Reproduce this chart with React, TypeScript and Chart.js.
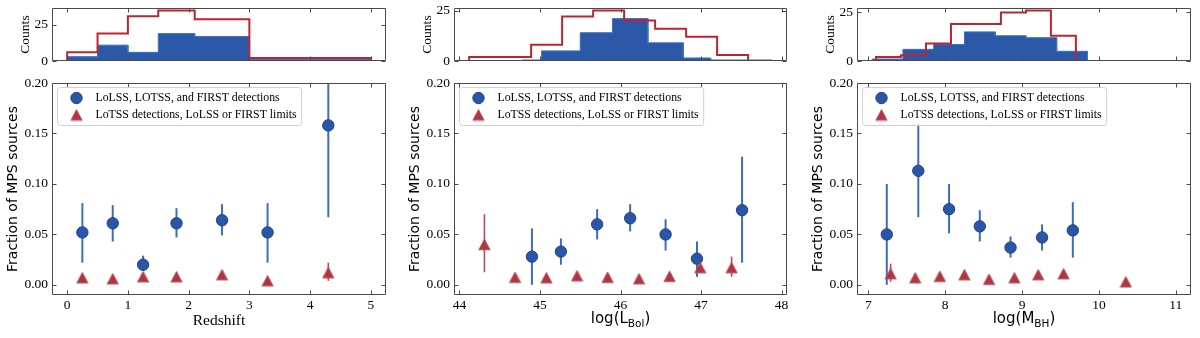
import React, { useEffect, useRef } from "react";
import { Chart, registerables } from "chart.js";

Chart.register(...registerables);

/* ---------------- data ---------------- */
// Panel 1: redshift
const zHistEdges = [0, 0.5, 1.0, 1.5, 2.1, 3.0, 5.0];
const zHistDet = [3, 11, 6, 19, 17, 1];
const zHistAll = [6, 19, 31, 35, 29, 2];
const zDetX = [0.25, 0.75, 1.25, 1.8, 2.55, 3.3, 4.3];
const zDetY = [0.052, 0.061, 0.02, 0.061, 0.064, 0.052, 0.158];
const zDetLo = [0.022, 0.043, 0.014, 0.047, 0.049, 0.022, 0.067];
const zDetHi = [0.081, 0.079, 0.029, 0.076, 0.08, 0.081, 0.25];
const zLimX = [0.25, 0.75, 1.25, 1.8, 2.55, 3.3, 4.3];
const zLimY = [0.007, 0.006, 0.008, 0.008, 0.01, 0.004, 0.012];
const zLimLo = [null, null, null, null, null, null, 0.004];
const zLimHi = [null, null, null, null, null, null, 0.022];
const zTicks = [0, 1, 2, 3, 4, 5];

// Panel 2: log(L_Bol)
const lHistDetEdges = [44.78, 45.02, 45.5, 45.9, 46.34, 46.78, 47.12, 47.88];
const lHistDet = [0.5, 5, 14, 21, 9, 1.5, 0.5];
const lHistAllEdges = [44.12, 44.505, 44.89, 45.275, 45.66, 46.045, 46.43, 46.815, 47.2, 47.585];
const lHistAll = [2, 2, 8, 22, 25, 20, 16, 12, 3];
const lDetX = [44.9, 45.26, 45.71, 46.12, 46.56, 46.95, 47.51];
const lDetY = [0.028, 0.033, 0.06, 0.066, 0.05, 0.026, 0.074];
const lDetLo = [0.0, 0.02, 0.045, 0.053, 0.034, 0.008, 0.022];
const lDetHi = [0.056, 0.046, 0.075, 0.08, 0.065, 0.043, 0.127];
const lLimX = [44.31, 44.69, 45.08, 45.46, 45.84, 46.23, 46.61, 46.99, 47.38];
const lLimY = [0.04, 0.0075, 0.007, 0.009, 0.0075, 0.006, 0.0085, 0.017, 0.017];
const lLimLo = [0.0126, null, null, null, null, null, null, null, 0.008];
const lLimHi = [0.07, null, null, null, null, null, null, null, 0.028];
const lTicks = [44, 45, 46, 47, 48];

// Panel 3: log(M_BH)
const mHistDetEdges = [7.05, 7.45, 7.85, 8.25, 8.65, 9.05, 9.45, 9.85];
const mHistDet = [1, 6, 8.5, 15, 13, 12, 5];
const mHistAllEdges = [7.1, 7.425, 7.75, 8.075, 8.4, 8.725, 9.05, 9.375, 9.7, 10.025, 10.35, 10.675, 11.0];
const mHistAll = [2, 3, 9, 19, 19, 25, 26, 13, 0, 0, 0, 0];
const mDetX = [7.24, 7.65, 8.05, 8.45, 8.85, 9.26, 9.66];
const mDetY = [0.05, 0.113, 0.075, 0.058, 0.037, 0.047, 0.054];
const mDetLo = [0.0, 0.067, 0.051, 0.043, 0.027, 0.034, 0.027];
const mDetHi = [0.1, 0.16, 0.1, 0.074, 0.048, 0.06, 0.082];
const mLimX = [7.29, 7.61, 7.93, 8.25, 8.57, 8.9, 9.21, 9.54, 10.35];
const mLimY = [0.011, 0.007, 0.0085, 0.01, 0.0055, 0.007, 0.01, 0.011, 0.003];
const mLimLo = [0.003, null, null, null, null, null, null, null, null];
const mLimHi = [0.021, null, null, null, null, null, null, null, null];
const mTicks = [7, 8, 9, 10, 11];

const fracTicks = [0, 0.05, 0.1, 0.15, 0.2];
const fracRange = [-0.01, 0.2];
const countTicks = [0, 25];

const detLabel = "LoLSS, LOTSS, and FIRST detections";
const limLabel = "LoTSS detections, LoLSS or FIRST limits";
const fracTitle = "Fraction of MPS sources";
const countTitle = "Counts";
const zTitle = "Redshift";
const lTitleParts: [string, boolean][] = [["log(L", false], ["Bol", true], [")", false]];
const mTitleParts: [string, boolean][] = [["log(M", false], ["BH", true], [")", false]];

/* ---------------- style ---------------- */
const BLUE = "#2a56a6";
const BLUE_EDGE = "#1d418e";
const BLUE_ERR = "#3e6dbd";
const BLUE_HIST = "#2c59a7";
const BLUE_HIST_EDGE = "#3f70c3";
const RED_LINE = "#bb2532";
const RED_MARK = "#ae3642";
const RED_MARK_EDGE = "#bf4f5b";
const RED_ERR = "#b84a56";
const FRAME = "#4a4a4a";
const SERIF = '"Liberation Serif", "Times New Roman", Times, serif';
const SANS = '"DejaVu Sans", Verdana, sans-serif';

const AXIS_W = 52;
const PAD_R = 8;
const HIST_H = 72;
const HIST_PAD_TOP = 8;
const HIST_PAD_BOTTOM = 11;
const SC_TOP = 72;
const SC_H = 266;
const SC_PAD_TOP = 11;
const SC_XAXIS_H = 43;

const panels = [
  {
    frameLeft: 52, frameRight: 386,
    detEdges: zHistEdges, det: zHistDet, allEdges: zHistEdges, all: zHistAll,
    detX: zDetX, detY: zDetY, detLo: zDetLo, detHi: zDetHi,
    limX: zLimX, limY: zLimY, limLo: zLimLo, limHi: zLimHi,
    xTicks: zTicks, title: zTitle, rich: null as any,
  },
  {
    frameLeft: 454, frameRight: 787,
    detEdges: lHistDetEdges, det: lHistDet, allEdges: lHistAllEdges, all: lHistAll,
    detX: lDetX, detY: lDetY, detLo: lDetLo, detHi: lDetHi,
    limX: lLimX, limY: lLimY, limLo: lLimLo, limHi: lLimHi,
    xTicks: lTicks, title: null as any, rich: lTitleParts,
  },
  {
    frameLeft: 857, frameRight: 1191,
    detEdges: mHistDetEdges, det: mHistDet, allEdges: mHistAllEdges, all: mHistAll,
    detX: mDetX, detY: mDetY, detLo: mDetLo, detHi: mDetHi,
    limX: mLimX, limY: mLimY, limLo: mLimLo, limHi: mLimHi,
    xTicks: mTicks, title: null as any, rich: mTitleParts,
  },
];

/* ---------------- helpers ---------------- */
function stepPoints(edges: number[], counts: number[]) {
  const pts = [{ x: edges[0], y: 0 }];
  counts.forEach((c, i) => {
    pts.push({ x: edges[i], y: c });
    pts.push({ x: edges[i + 1], y: c });
  });
  pts.push({ x: edges[edges.length - 1], y: 0 });
  return pts;
}

function xRange(p: any): [number, number] {
  const lo = Math.min(p.detEdges[0], p.allEdges[0]);
  const hi = Math.max(p.detEdges[p.detEdges.length - 1], p.allEdges[p.allEdges.length - 1]);
  const m = (hi - lo) * 0.05;
  return [lo - m, hi + m];
}

function makeTriangle(): HTMLCanvasElement {
  const c = document.createElement("canvas");
  c.width = 13;
  c.height = 13;
  const g = c.getContext("2d")!;
  g.beginPath();
  g.moveTo(6.5, 1);
  g.lineTo(12.2, 11.8);
  g.lineTo(0.8, 11.8);
  g.closePath();
  g.fillStyle = RED_MARK;
  g.fill();
  g.strokeStyle = RED_MARK_EDGE;
  g.lineWidth = 0.8;
  g.stroke();
  return c;
}

function makeFramePlugin(xTicks: number[], yTicks: number[]) {
  return {
    id: "frame",
    afterDraw(chart: any) {
      const { ctx, chartArea: a, scales } = chart;
      const L = 4;
      const l = Math.round(a.left) + 0.5;
      const r = Math.round(a.right) - 0.5;
      const t = Math.round(a.top) + 0.5;
      const b = Math.round(a.bottom) - 0.5;
      ctx.save();
      ctx.strokeStyle = FRAME;
      ctx.lineWidth = 1;
      ctx.beginPath();
      ctx.rect(l, t, r - l, b - t);
      xTicks.forEach((v) => {
        const px = Math.round(scales.x.getPixelForValue(v)) + 0.5;
        ctx.moveTo(px, b);
        ctx.lineTo(px, b - L);
        ctx.moveTo(px, t);
        ctx.lineTo(px, t + L);
      });
      yTicks.forEach((v) => {
        const py = Math.round(scales.y.getPixelForValue(v)) + 0.5;
        ctx.moveTo(l, py);
        ctx.lineTo(l + L, py);
        ctx.moveTo(r, py);
        ctx.lineTo(r - L, py);
      });
      ctx.stroke();
      ctx.restore();
    },
  };
}

function makeErrorPlugin(series: any[]) {
  return {
    id: "errbars",
    beforeDatasetsDraw(chart: any) {
      const { ctx, chartArea: a, scales } = chart;
      ctx.save();
      ctx.beginPath();
      ctx.rect(a.left, a.top, a.right - a.left, a.bottom - a.top);
      ctx.clip();
      series.forEach((s) => {
        ctx.strokeStyle = s.color;
        ctx.lineWidth = s.width;
        s.x.forEach((xv: number, i: number) => {
          const lo = s.lo[i];
          const hi = s.hi[i];
          if (lo == null || hi == null) return;
          const px = scales.x.getPixelForValue(xv);
          ctx.beginPath();
          ctx.moveTo(px, scales.y.getPixelForValue(lo));
          ctx.lineTo(px, scales.y.getPixelForValue(hi));
          ctx.stroke();
        });
      });
      ctx.restore();
    },
  };
}

function makeLegendPlugin(tri: HTMLCanvasElement) {
  return {
    id: "boxLegend",
    afterDraw(chart: any) {
      const { ctx, chartArea: a } = chart;
      const ds = chart.data.datasets;
      ctx.save();
      ctx.font = `11.8px ${SERIF}`;
      const tw = Math.max(...ds.map((d: any) => ctx.measureText(d.label).width));
      const x0 = a.left + 5.5;
      const y0 = a.top + 4.5;
      const w = 38 + tw + 5;
      const h = 38;
      const r = 3;
      ctx.beginPath();
      ctx.moveTo(x0 + r, y0);
      ctx.lineTo(x0 + w - r, y0);
      ctx.arcTo(x0 + w, y0, x0 + w, y0 + r, r);
      ctx.lineTo(x0 + w, y0 + h - r);
      ctx.arcTo(x0 + w, y0 + h, x0 + w - r, y0 + h, r);
      ctx.lineTo(x0 + r, y0 + h);
      ctx.arcTo(x0, y0 + h, x0, y0 + h - r, r);
      ctx.lineTo(x0, y0 + r);
      ctx.arcTo(x0, y0, x0 + r, y0, r);
      ctx.closePath();
      ctx.fillStyle = "rgba(255,255,255,0.8)";
      ctx.fill();
      ctx.strokeStyle = "#d0d0d0";
      ctx.lineWidth = 1;
      ctx.stroke();
      const mx = x0 + 19;
      const cy1 = y0 + 10.5;
      const cy2 = y0 + 27.5;
      ctx.beginPath();
      ctx.arc(mx, cy1, 5.7, 0, Math.PI * 2);
      ctx.fillStyle = BLUE;
      ctx.fill();
      ctx.strokeStyle = BLUE_EDGE;
      ctx.stroke();
      ctx.drawImage(tri, mx - tri.width / 2, cy2 - tri.height / 2);
      ctx.fillStyle = "#000";
      ctx.textAlign = "left";
      ctx.textBaseline = "middle";
      ctx.fillText(ds[0].label, x0 + 38, cy1);
      ctx.fillText(ds[1].label, x0 + 38, cy2);
      ctx.restore();
    },
  };
}

function makeRichTitlePlugin(parts: [string, boolean][]) {
  return {
    id: "richTitle",
    afterDraw(chart: any) {
      const { ctx, chartArea: a } = chart;
      const main = `15px ${SANS}`;
      const sub = `10.5px ${SANS}`;
      ctx.save();
      ctx.fillStyle = "#000";
      ctx.textAlign = "left";
      ctx.textBaseline = "alphabetic";
      let total = 0;
      parts.forEach(([t, s]) => {
        ctx.font = s ? sub : main;
        total += ctx.measureText(t).width;
      });
      let x = (a.left + a.right) / 2 - total / 2;
      const base = chart.height - 14.7;
      parts.forEach(([t, s]) => {
        ctx.font = s ? sub : main;
        ctx.fillText(t, x, s ? base + 4 : base);
        x += ctx.measureText(t).width;
      });
      ctx.restore();
    },
  };
}

const noGrid = { display: false, drawTicks: false };
const noBorder = { display: false };

function histConfig(p: any): any {
  const xr = xRange(p);
  const yMax = Math.max(...p.all, ...p.det) * 1.05;
  return {
    type: "line",
    data: {
      datasets: [
        {
          label: "all",
          data: stepPoints(p.allEdges, p.all),
          borderColor: RED_LINE,
          borderWidth: 2,
          fill: false,
          pointRadius: 0,
          tension: 0,
          order: 0,
          borderJoinStyle: "miter",
        },
        {
          label: "det",
          data: stepPoints(p.detEdges, p.det),
          borderColor: BLUE_HIST_EDGE,
          borderWidth: 1,
          backgroundColor: BLUE_HIST,
          fill: "origin",
          pointRadius: 0,
          tension: 0,
          order: 1,
        },
      ],
    },
    options: {
      animation: false,
      responsive: false,
      maintainAspectRatio: false,
      events: [],
      layout: { autoPadding: false, padding: { top: HIST_PAD_TOP, bottom: HIST_PAD_BOTTOM, left: 0, right: PAD_R } },
      scales: {
        x: {
          type: "linear",
          min: xr[0],
          max: xr[1],
          ticks: { display: false },
          grid: noGrid,
          border: noBorder,
          afterFit: (s: any) => {
            s.height = 0;
            s.paddingLeft = 0;
            s.paddingRight = 0;
          },
        },
        y: {
          type: "linear",
          min: 0,
          max: yMax,
          afterBuildTicks: (s: any) => {
            s.ticks = countTicks.map((v) => ({ value: v }));
          },
          ticks: {
            font: { family: SERIF, size: 13.5, lineHeight: 1.1 },
            color: "#000",
            padding: 4,
            callback: (v: any) => String(v),
          },
          grid: noGrid,
          border: noBorder,
          title: {
            display: true,
            text: countTitle,
            font: { family: SERIF, size: 13.5 },
            color: "#000",
            padding: { top: 17.3, bottom: 0 },
          },
          afterFit: (s: any) => {
            s.width = AXIS_W;
            s.paddingTop = 0;
            s.paddingBottom = 0;
          },
        },
      },
      plugins: { legend: { display: false }, tooltip: { enabled: false } },
    },
    plugins: [makeFramePlugin(p.xTicks, countTicks)],
  };
}

function scatterConfig(p: any): any {
  const xr = xRange(p);
  const tri = makeTriangle();
  const plugins: any[] = [
    makeErrorPlugin([
      { x: p.detX, lo: p.detLo, hi: p.detHi, color: BLUE_ERR, width: 2 },
      { x: p.limX, lo: p.limLo, hi: p.limHi, color: RED_ERR, width: 1.6 },
    ]),
    makeFramePlugin(p.xTicks, fracTicks),
    makeLegendPlugin(tri),
  ];
  if (p.rich) plugins.push(makeRichTitlePlugin(p.rich));
  return {
    type: "scatter",
    data: {
      datasets: [
        {
          label: detLabel,
          data: p.detX.map((x: number, i: number) => ({ x, y: p.detY[i] })),
          pointStyle: "circle",
          pointRadius: 5.7,
          backgroundColor: BLUE,
          borderColor: BLUE_EDGE,
          borderWidth: 1,
          order: 1,
        },
        {
          label: limLabel,
          data: p.limX.map((x: number, i: number) => ({ x, y: p.limY[i] })),
          pointStyle: tri,
          pointRadius: 6,
          backgroundColor: RED_MARK,
          borderColor: RED_MARK,
          borderWidth: 0,
          order: 0,
        },
      ],
    },
    options: {
      animation: false,
      responsive: false,
      maintainAspectRatio: false,
      events: [],
      layout: { autoPadding: false, padding: { top: SC_PAD_TOP, bottom: 0, left: 0, right: PAD_R } },
      scales: {
        x: {
          type: "linear",
          min: xr[0],
          max: xr[1],
          afterBuildTicks: (s: any) => {
            s.ticks = p.xTicks.map((v: number) => ({ value: v }));
          },
          ticks: {
            font: { family: SERIF, size: 13.5 },
            color: "#000",
            padding: 2,
            maxRotation: 0,
            autoSkip: false,
            callback: (v: any) => String(v),
          },
          grid: noGrid,
          border: noBorder,
          title: p.title
            ? {
                display: true,
                text: p.title,
                font: { family: SERIF, size: 15.5 },
                color: "#000",
                padding: { top: 0, bottom: 8 },
              }
            : { display: false },
          afterFit: (s: any) => {
            s.height = SC_XAXIS_H;
            s.paddingLeft = 0;
            s.paddingRight = 0;
          },
        },
        y: {
          type: "linear",
          min: fracRange[0],
          max: fracRange[1],
          afterBuildTicks: (s: any) => {
            s.ticks = fracTicks.map((v) => ({ value: v }));
          },
          ticks: {
            font: { family: SERIF, size: 13.5 },
            color: "#000",
            padding: 4,
            callback: (v: any) => Number(v).toFixed(2),
          },
          grid: noGrid,
          border: noBorder,
          title: {
            display: true,
            text: fracTitle,
            font: { family: SANS, size: 14 },
            color: "#000",
            padding: { top: 5, bottom: 0 },
          },
          afterFit: (s: any) => {
            s.width = AXIS_W;
            s.paddingTop = 0;
            s.paddingBottom = 0;
          },
        },
      },
      plugins: { legend: { display: false }, tooltip: { enabled: false } },
    },
    plugins,
  };
}

function ChartCanvas(props: { make: () => any; left: number; top: number; width: number; height: number }) {
  const ref = useRef<HTMLCanvasElement>(null);
  useEffect(() => {
    const chart = new Chart(ref.current as HTMLCanvasElement, props.make());
    return () => chart.destroy();
  }, []);
  return (
    <canvas
      ref={ref}
      width={props.width}
      height={props.height}
      style={{
        position: "absolute",
        left: props.left,
        top: props.top,
        width: props.width,
        height: props.height,
      }}
    />
  );
}

export default function App() {
  useEffect(() => {
    document.body.style.margin = "0";
    document.body.style.background = "#fff";
  }, []);
  return (
    <div
      style={{
        position: "absolute",
        left: 0,
        top: 0,
        width: 1200,
        height: 338,
        overflow: "hidden",
        background: "#fff",
      }}
    >
      {panels.map((p, i) => {
        const left = p.frameLeft - AXIS_W;
        const width = p.frameRight - p.frameLeft + AXIS_W + PAD_R;
        return (
          <React.Fragment key={i}>
            <ChartCanvas make={() => histConfig(p)} left={left} top={0} width={width} height={HIST_H} />
            <ChartCanvas make={() => scatterConfig(p)} left={left} top={SC_TOP} width={width} height={SC_H} />
          </React.Fragment>
        );
      })}
    </div>
  );
}
